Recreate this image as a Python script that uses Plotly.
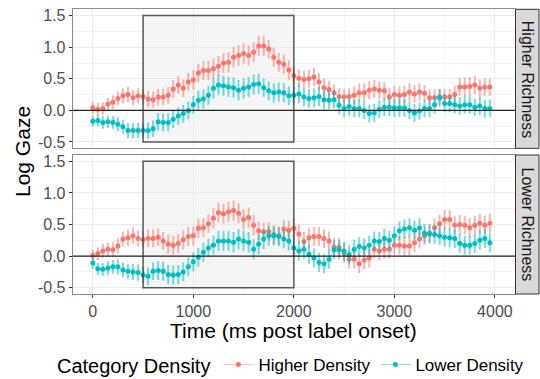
import plotly.graph_objects as go

time_ms = [i * 50 for i in range(80)]

# Higher Richness panel
hr_high = [0.04, 0.02, 0.03, 0.10, 0.13, 0.19, 0.23, 0.25, 0.20, 0.23,
           0.22, 0.18, 0.17, 0.21, 0.21, 0.24, 0.34, 0.40, 0.35, 0.45,
           0.48, 0.59, 0.63, 0.63, 0.66, 0.70, 0.75, 0.76, 0.84, 0.87,
           0.90, 0.87, 0.92, 1.02, 1.02, 0.97, 0.84, 0.76, 0.73, 0.64,
           0.55, 0.51, 0.49, 0.50, 0.53, 0.45, 0.36, 0.33, 0.28, 0.22,
           0.21, 0.22, 0.24, 0.28, 0.28, 0.32, 0.34, 0.32, 0.31, 0.21,
           0.25, 0.24, 0.25, 0.29, 0.26, 0.29, 0.27, 0.20, 0.20, 0.21,
           0.21, 0.21, 0.25, 0.37, 0.37, 0.38, 0.40, 0.35, 0.37, 0.37]
hr_low = [-0.17, -0.16, -0.19, -0.18, -0.19, -0.22, -0.26, -0.32, -0.32, -0.32,
          -0.32, -0.32, -0.29, -0.18, -0.19, -0.19, -0.14, -0.09, -0.05, 0.00,
          0.09, 0.16, 0.18, 0.24, 0.35, 0.40, 0.39, 0.37, 0.36, 0.32,
          0.35, 0.37, 0.41, 0.42, 0.36, 0.31, 0.28, 0.29, 0.28, 0.23,
          0.24, 0.26, 0.21, 0.19, 0.20, 0.22, 0.17, 0.16, 0.17, 0.08,
          0.03, 0.06, 0.03, 0.03, 0.00, -0.05, -0.04, 0.02, 0.05, 0.05,
          0.04, 0.04, 0.04, 0.00, -0.04, -0.01, 0.03, 0.03, 0.09, 0.20,
          0.11, 0.11, 0.09, 0.07, 0.09, 0.09, 0.05, 0.07, 0.03, 0.03]
hr_high_err = [0.10, 0.10, 0.10, 0.10, 0.11, 0.11, 0.12, 0.12, 0.12, 0.12,
               0.12, 0.13, 0.13, 0.13, 0.13, 0.13, 0.14, 0.14, 0.14, 0.14,
               0.15, 0.15, 0.15, 0.15, 0.16, 0.16, 0.16, 0.16, 0.16, 0.16,
               0.16, 0.16, 0.16, 0.16, 0.16, 0.15, 0.15, 0.15, 0.15, 0.15,
               0.14, 0.14, 0.14, 0.14, 0.14, 0.14, 0.14, 0.14, 0.13, 0.13,
               0.13, 0.13, 0.14, 0.14, 0.14, 0.14, 0.14, 0.14, 0.14, 0.14,
               0.14, 0.14, 0.14, 0.14, 0.14, 0.14, 0.13, 0.13, 0.13, 0.13,
               0.13, 0.13, 0.14, 0.14, 0.15, 0.15, 0.15, 0.14, 0.14, 0.14]
hr_low_err = [0.09, 0.09, 0.10, 0.10, 0.10, 0.11, 0.11, 0.12, 0.12, 0.12,
              0.12, 0.13, 0.13, 0.14, 0.14, 0.14, 0.14, 0.14, 0.14, 0.14,
              0.14, 0.15, 0.15, 0.15, 0.16, 0.16, 0.16, 0.16, 0.16, 0.16,
              0.16, 0.16, 0.16, 0.16, 0.15, 0.15, 0.15, 0.15, 0.15, 0.15,
              0.15, 0.15, 0.15, 0.15, 0.15, 0.15, 0.15, 0.14, 0.14, 0.14,
              0.14, 0.14, 0.14, 0.14, 0.14, 0.14, 0.14, 0.14, 0.14, 0.14,
              0.14, 0.14, 0.14, 0.14, 0.14, 0.14, 0.14, 0.14, 0.14, 0.14,
              0.14, 0.14, 0.14, 0.14, 0.14, 0.14, 0.14, 0.14, 0.14, 0.14]

# Lower Richness panel
lr_high = [0.01, 0.04, 0.08, 0.11, 0.10, 0.16, 0.27, 0.29, 0.32, 0.28,
           0.26, 0.28, 0.28, 0.30, 0.24, 0.19, 0.17, 0.20, 0.26, 0.31,
           0.32, 0.44, 0.45, 0.51, 0.60, 0.69, 0.67, 0.70, 0.72, 0.68,
           0.58, 0.61, 0.49, 0.40, 0.38, 0.39, 0.34, 0.32, 0.43, 0.41,
           0.44, 0.35, 0.23, 0.29, 0.31, 0.31, 0.28, 0.24, 0.14, 0.14,
           0.04, -0.05, -0.05, -0.12, -0.06, -0.03, 0.11, 0.08, 0.11, 0.11,
           0.17, 0.17, 0.16, 0.16, 0.21, 0.27, 0.32, 0.36, 0.45, 0.51,
           0.58, 0.58, 0.49, 0.50, 0.49, 0.45, 0.49, 0.52, 0.49, 0.52]
lr_low = [-0.11, -0.20, -0.21, -0.19, -0.17, -0.17, -0.22, -0.24, -0.25, -0.26,
          -0.30, -0.32, -0.24, -0.23, -0.24, -0.29, -0.30, -0.29, -0.25, -0.17,
          -0.09, -0.02, 0.06, 0.13, 0.17, 0.24, 0.24, 0.24, 0.22, 0.27,
          0.24, 0.22, 0.11, 0.19, 0.27, 0.32, 0.32, 0.31, 0.27, 0.24,
          0.13, 0.08, 0.11, 0.03, -0.03, -0.10, -0.12, -0.05, 0.10, 0.10,
          0.08, 0.02, 0.11, 0.15, 0.13, 0.17, 0.24, 0.23, 0.28, 0.25,
          0.32, 0.40, 0.43, 0.45, 0.41, 0.45, 0.36, 0.35, 0.34, 0.32,
          0.30, 0.29, 0.28, 0.20, 0.17, 0.17, 0.20, 0.25, 0.28, 0.21]
lr_high_err = [0.10, 0.10, 0.11, 0.11, 0.12, 0.12, 0.12, 0.13, 0.13, 0.13,
               0.13, 0.14, 0.14, 0.14, 0.14, 0.15, 0.15, 0.15, 0.15, 0.15,
               0.15, 0.15, 0.15, 0.15, 0.16, 0.16, 0.16, 0.16, 0.16, 0.16,
               0.16, 0.16, 0.16, 0.15, 0.15, 0.15, 0.15, 0.15, 0.15, 0.15,
               0.15, 0.15, 0.15, 0.15, 0.15, 0.15, 0.15, 0.15, 0.15, 0.15,
               0.15, 0.15, 0.15, 0.15, 0.15, 0.15, 0.15, 0.15, 0.15, 0.15,
               0.15, 0.15, 0.15, 0.15, 0.15, 0.15, 0.15, 0.15, 0.15, 0.15,
               0.15, 0.15, 0.15, 0.15, 0.15, 0.15, 0.15, 0.15, 0.15, 0.15]
lr_low_err = [0.09, 0.10, 0.10, 0.11, 0.11, 0.12, 0.12, 0.12, 0.13, 0.13,
              0.13, 0.14, 0.14, 0.15, 0.15, 0.15, 0.15, 0.15, 0.15, 0.15,
              0.15, 0.15, 0.15, 0.15, 0.15, 0.16, 0.16, 0.16, 0.16, 0.16,
              0.16, 0.16, 0.16, 0.16, 0.16, 0.16, 0.15, 0.15, 0.15, 0.15,
              0.15, 0.15, 0.15, 0.15, 0.15, 0.15, 0.15, 0.15, 0.15, 0.15,
              0.15, 0.15, 0.15, 0.15, 0.15, 0.15, 0.15, 0.15, 0.15, 0.15,
              0.15, 0.15, 0.15, 0.15, 0.15, 0.15, 0.15, 0.15, 0.15, 0.15,
              0.15, 0.15, 0.15, 0.15, 0.15, 0.15, 0.15, 0.15, 0.15, 0.15]

series_names = ["Higher Density", "Lower Density"]
panel_names = ["Higher Richness", "Lower Richness"]
y_tickvals = [-0.5, 0.0, 0.5, 1.0, 1.5]
y_ticktext = ["-0.5", "0.0", "0.5", "1.0", "1.5"]
x_tickvals = [0, 1000, 2000, 3000, 4000]
window = (500, 2000, -0.5, 1.5)

COLORS = ["#F8766D", "#00BFC4"]
COLORS_A = ["rgba(248,118,109,0.55)", "rgba(0,191,196,0.55)"]
COLORS_L = ["rgba(248,118,109,0.45)", "rgba(0,191,196,0.45)"]
FONT = "Liberation Sans, Arial, sans-serif"
W, H = 540, 379

fig = go.Figure()
panels = [(hr_high, hr_high_err, hr_low, hr_low_err),
          (lr_high, lr_high_err, lr_low, lr_low_err)]
for p, (a, ae, b, be) in enumerate(panels):
    xa = "x" if p == 0 else "x2"
    ya = "y" if p == 0 else "y2"
    for s, (vals, errs) in enumerate([(a, ae), (b, be)]):
        fig.add_trace(go.Scatter(
            x=time_ms, y=vals, xaxis=xa, yaxis=ya,
            mode="lines+markers", name=series_names[s],
            legendgroup=series_names[s], showlegend=(p == 0),
            line=dict(color=COLORS_L[s], width=1),
            marker=dict(color=COLORS[s], size=5),
            error_y=dict(type="data", array=errs, visible=True,
                         color=COLORS_A[s], thickness=2, width=0),
        ))


def px_x(v):
    return v / W


def px_y(v):
    return 1 - v / H


left, right = 72.7, 515.0
p1 = (9.3, 148.3)
p2 = (155.0, 294.0)

axis_common = dict(range=[-200, 4200], tickvals=x_tickvals, showgrid=True,
                   gridcolor="#EBEBEB", gridwidth=1, zeroline=False, automargin=False,
                   showline=True, linecolor="#8a8a8a", linewidth=1, mirror=True,
                   minor=dict(dtick=500, tick0=0, showgrid=True, gridcolor="#F4F4F4", gridwidth=0.6),
                   domain=[px_x(left), px_x(right)],
                   tickfont=dict(family=FONT, size=16, color="#4D4D4D"))
yaxis_common = dict(range=[-0.6, 1.6], tickvals=y_tickvals, ticktext=y_ticktext,
                    showgrid=True, gridcolor="#EBEBEB", gridwidth=1, zeroline=False,
                    automargin=False,
                    showline=True, linecolor="#8a8a8a", linewidth=1, mirror=True,
                    minor=dict(dtick=0.25, tick0=0, showgrid=True, gridcolor="#F4F4F4", gridwidth=0.6),
                    ticks="outside", ticklen=3, tickcolor="#333333",
                    tickfont=dict(family=FONT, size=16, color="#4D4D4D"))

fig.update_layout(
    width=W, height=H, margin=dict(l=0, r=0, t=0, b=0, autoexpand=False),
    paper_bgcolor="white", plot_bgcolor="white",
    xaxis=dict(axis_common, anchor="y", showticklabels=False, ticks=""),
    xaxis2=dict(axis_common, anchor="y2", matches="x", ticks="outside",
                ticklen=3, tickcolor="#333333"),
    yaxis=dict(yaxis_common, anchor="x", domain=[px_y(p1[1]), px_y(p1[0])]),
    yaxis2=dict(yaxis_common, anchor="x2", domain=[px_y(p2[1]), px_y(p2[0])]),
    legend=dict(orientation="h", x=px_x(292), xanchor="center", y=px_y(365), yanchor="middle",
                title=dict(text="Category Density", side="left",
                           font=dict(family=FONT, size=20, color="black")),
                font=dict(family=FONT, size=17, color="black"),
                itemwidth=30, tracegroupgap=0),
    font=dict(family=FONT),
)

shapes = []
annotations = []
for p, (ya, (top, bot)) in enumerate([("y", p1), ("y2", p2)]):
    xa = "x" if p == 0 else "x2"
    shapes.append(dict(type="rect", xref=xa, yref=ya, x0=window[0], x1=window[1],
                       y0=window[2], y1=window[3], layer="below",
                       fillcolor="rgba(225,225,225,0.35)", line=dict(width=0)))
    shapes.append(dict(type="rect", xref=xa, yref=ya, x0=window[0], x1=window[1],
                       y0=window[2], y1=window[3], layer="above",
                       fillcolor="rgba(0,0,0,0)",
                       line=dict(color="rgba(60,60,60,0.85)", width=1.5)))
    shapes.append(dict(type="line", xref="paper", yref=ya, x0=px_x(left), x1=px_x(right),
                       y0=0, y1=0, layer="above", line=dict(color="#222222", width=1.1)))
    shapes.append(dict(type="rect", xref="paper", yref="paper",
                       x0=px_x(right + 0.5), x1=px_x(539), y0=px_y(bot), y1=px_y(top),
                       fillcolor="#D9D9D9", line=dict(color="#333333", width=1)))
    annotations.append(dict(xref="paper", yref="paper", x=px_x((right + 539) / 2),
                            y=px_y((top + bot) / 2), text=panel_names[p], showarrow=False,
                            xanchor="center", yanchor="middle",
                            textangle=90, font=dict(family=FONT, size=16, color="#1A1A1A")))

annotations.append(dict(xref="paper", yref="paper", x=px_x(22), y=px_y(152), text="Log Gaze",
                        showarrow=False, textangle=-90, xanchor="center", yanchor="middle",
                        font=dict(family=FONT, size=21, color="black")))
annotations.append(dict(xref="paper", yref="paper", x=px_x((left + right) / 2), y=px_y(330),
                        text="Time (ms post label onset)", showarrow=False,
                        xanchor="center", yanchor="middle",
                        font=dict(family=FONT, size=21, color="black")))
fig.update_layout(shapes=shapes, annotations=annotations)

fig.write_html("out.html", config={"displayModeBar": False},
               post_script="document.body.style.margin='0';")
